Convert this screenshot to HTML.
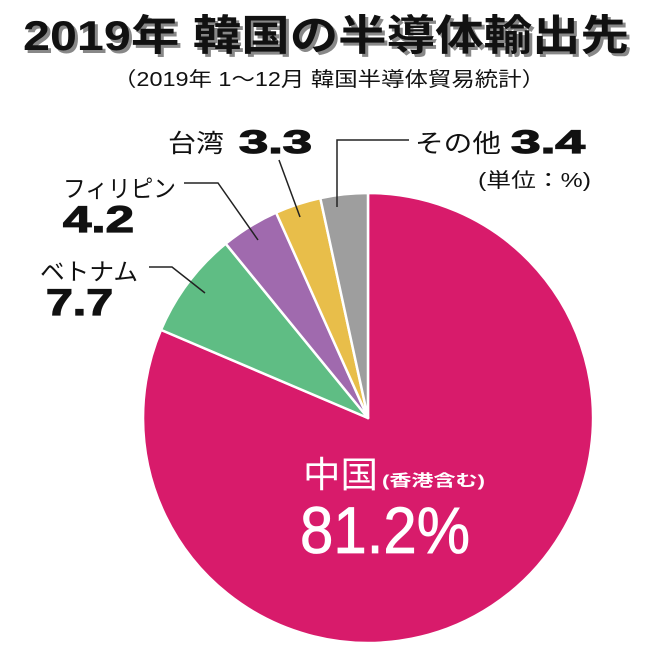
<!DOCTYPE html>
<html><head><meta charset="utf-8"><style>
html,body{margin:0;padding:0;background:#fff;}
svg{display:block;}
text{font-family:"Liberation Sans","Noto Sans CJK JP",sans-serif;}
</style></head><body>
<svg width="650" height="657" viewBox="0 0 650 657" xmlns="http://www.w3.org/2000/svg">
<text x="326" y="50" text-anchor="middle" font-size="42" font-weight="bold" fill="#888" textLength="606" lengthAdjust="spacingAndGlyphs" transform="translate(3,3)">2019年 韓国の半導体輸出先</text>
<text x="326" y="50" text-anchor="middle" font-size="42" font-weight="bold" fill="#111" textLength="606" lengthAdjust="spacingAndGlyphs">2019年 韓国の半導体輸出先</text>
<text x="329" y="86" text-anchor="middle" font-size="20" fill="#111" textLength="432" lengthAdjust="spacingAndGlyphs">（2019年 1～12月 韓国半導体貿易統計）</text>

<g stroke="#fff" stroke-width="2.5" stroke-linejoin="round">
<path d="M368,418 L368,193 A225,225 0 1,1 161.0,329.9 Z" fill="#d81b6b"/>
<path d="M368,418 L161.0,329.9 A225,225 0 0,1 225.7,243.7 Z" fill="#5fbd84"/>
<path d="M368,418 L225.7,243.7 A225,225 0 0,1 276.1,212.6 Z" fill="#a06aae"/>
<path d="M368,418 L276.1,212.6 A225,225 0 0,1 320.3,198.1 Z" fill="#e8be4a"/>
<path d="M368,418 L320.3,198.1 A225,225 0 0,1 368,193 Z" fill="#9e9e9e"/>
</g>

<g stroke="#222" stroke-width="1.5" fill="none">
<polyline points="337,207 337,140 409,140"/>
<polyline points="279,160 300,217"/>
<polyline points="184,183 218,183 258,240"/>
<polyline points="149,267 172,267 205,293"/>
</g>

<g fill="#111" stroke="#111" stroke-width="1.2">
<text x="511" y="153" font-size="32" font-weight="bold" textLength="74" lengthAdjust="spacingAndGlyphs">3.4</text>
<text x="239" y="153" font-size="32" font-weight="bold" textLength="73" lengthAdjust="spacingAndGlyphs">3.3</text>
<text x="63" y="232" font-size="37" font-weight="bold" textLength="71" lengthAdjust="spacingAndGlyphs">4.2</text>
<text x="46" y="315" font-size="37" font-weight="bold" textLength="67" lengthAdjust="spacingAndGlyphs">7.7</text>
</g>

<text x="415" y="152" font-size="25" fill="#111" textLength="86" lengthAdjust="spacingAndGlyphs">その他</text>
<text x="478" y="187" font-size="20" fill="#111" textLength="113" lengthAdjust="spacingAndGlyphs">(単位：%)</text>
<text x="168" y="152" font-size="25" fill="#111" textLength="56" lengthAdjust="spacingAndGlyphs">台湾</text>
<text x="63" y="197" font-size="24" fill="#111" textLength="113" lengthAdjust="spacingAndGlyphs">フィリピン</text>
<text x="40" y="280" font-size="24" fill="#111" textLength="98" lengthAdjust="spacingAndGlyphs">ベトナム</text>

<text x="303" y="487" font-size="36" fill="#fff" textLength="75" lengthAdjust="spacingAndGlyphs">中国</text>
<text x="382" y="486" font-size="16" font-weight="bold" fill="#fff" textLength="103" lengthAdjust="spacingAndGlyphs">(香港含む)</text>
<text x="300" y="553" font-size="66" fill="#fff" stroke="#fff" stroke-width="0.8" textLength="170" lengthAdjust="spacingAndGlyphs">81.2%</text>
</svg>
</body></html>
